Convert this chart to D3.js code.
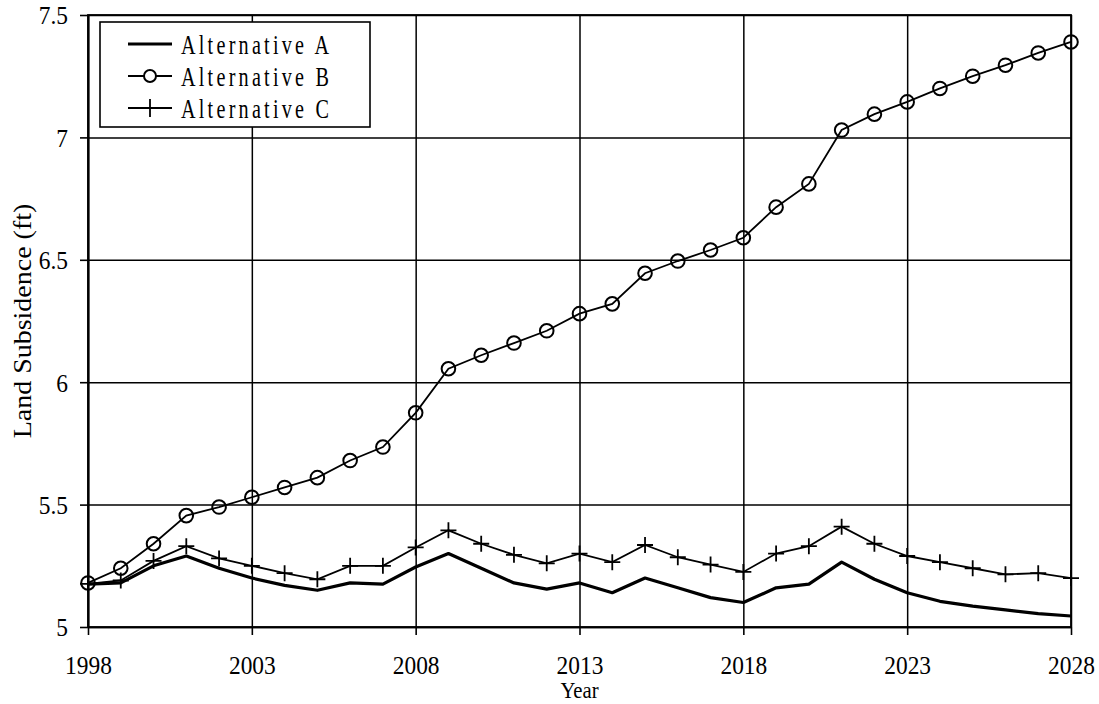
<!DOCTYPE html>
<html>
<head>
<meta charset="utf-8">
<script src="https://cdn.jsdelivr.net/npm/d3@7"></script>
<style>
  html, body { margin: 0; padding: 0; background: #fff; }
  svg { display: block; }
  text { font-family: "Liberation Serif", "Times New Roman", serif; fill: #000; }
</style>
</head>
<body>
<svg id="chart" width="1099" height="704"></svg>
<script>
// Years simulated
const years = d3.range(1998, 2029);

// Land subsidence (ft) for each management alternative
const altA = [5.175, 5.18, 5.25, 5.29, 5.24, 5.20, 5.17, 5.15, 5.18, 5.175,
              5.245, 5.30, 5.24, 5.18, 5.155, 5.18, 5.14, 5.20, 5.16, 5.12,
              5.10, 5.16, 5.175, 5.265, 5.195, 5.14, 5.105, 5.085, 5.07, 5.055, 5.045];
const altB = [5.18, 5.24, 5.34, 5.455, 5.49, 5.53, 5.57, 5.61, 5.68, 5.735,
              5.875, 6.055, 6.11, 6.16, 6.21, 6.28, 6.32, 6.445, 6.495, 6.54,
              6.59, 6.715, 6.81, 7.03, 7.095, 7.145, 7.20, 7.25, 7.295, 7.345, 7.39];
const altC = [5.176, 5.19, 5.27, 5.33, 5.28, 5.25, 5.22, 5.195, 5.25, 5.25,
              5.325, 5.395, 5.34, 5.295, 5.26, 5.30, 5.265, 5.335, 5.285, 5.255,
              5.225, 5.30, 5.33, 5.41, 5.34, 5.29, 5.265, 5.24, 5.215, 5.22, 5.20];

const xTicks = [1998, 2003, 2008, 2013, 2018, 2023, 2028];
const yTicks = [5, 5.5, 6, 6.5, 7, 7.5];
const seriesNames = ["Alternative A", "Alternative B", "Alternative C"];

const svg = d3.select("#chart");
const margin = { left: 88, top: 15, right: 1099 - 1071, bottom: 704 - 627 };
const W = 1099 - margin.left - margin.right;
const H = 704 - margin.top - margin.bottom;

const x = d3.scaleLinear().domain([1998, 2028]).range([0, W]);
const y = d3.scaleLinear().domain([5, 7.5]).range([H, 0]);

const g = svg.append("g").attr("transform", `translate(${margin.left},${margin.top})`);

// grid
g.append("g")
  .attr("transform", `translate(0,${H})`)
  .call(d3.axisBottom(x).tickValues(xTicks).tickSize(-H).tickFormat(""))
  .call(a => a.select(".domain").remove())
  .call(a => a.selectAll("line").attr("stroke", "#000").attr("stroke-width", 1.5));
g.append("g")
  .call(d3.axisLeft(y).tickValues(yTicks).tickSize(-W).tickFormat(""))
  .call(a => a.select(".domain").remove())
  .call(a => a.selectAll("line").attr("stroke", "#000").attr("stroke-width", 1.5));

// axes
const sx = 0.9;
g.append("g")
  .attr("transform", `translate(0,${H})`)
  .call(d3.axisBottom(x).tickValues(xTicks).tickSize(8).tickSizeOuter(0).tickFormat(d3.format("d")))
  .call(a => a.select(".domain").attr("stroke-width", 1.6))
  .call(a => a.selectAll("line").attr("stroke-width", 1.6))
  .call(a => a.selectAll("text")
    .attr("font-size", 26).attr("y", 0).attr("dy", 0)
    .attr("transform", `translate(0,47) scale(${sx},1)`));

g.append("g")
  .call(d3.axisLeft(y).tickValues(yTicks).tickSize(8).tickSizeOuter(0).tickFormat(d => d))
  .call(a => a.select(".domain").attr("stroke-width", 2))
  .call(a => a.selectAll("line").attr("stroke-width", 1.6))
  .call(a => a.selectAll("text")
    .attr("font-size", 26).attr("x", 0).attr("dy", "0.34em")
    .attr("transform", `translate(-20,0) scale(${sx},1)`));

// frame
g.append("rect").attr("x", 0).attr("y", 0).attr("width", W).attr("height", H)
  .attr("fill", "none").attr("stroke", "#000").attr("stroke-width", 1.8);

// axis titles
svg.append("text")
  .attr("transform", `translate(${margin.left + W / 2},698) scale(${sx},1)`)
  .attr("text-anchor", "middle").attr("font-size", 23).text("Year");
svg.append("text")
  .attr("transform", `translate(31,${margin.top + H / 2}) rotate(-90) scale(1,${sx})`)
  .attr("text-anchor", "middle").attr("font-size", 28).text("Land Subsidence (ft)");

// lines
const line = d3.line().x((d, i) => x(years[i])).y(d => y(d));
g.append("path").datum(altA).attr("d", line)
  .attr("fill", "none").attr("stroke", "#000").attr("stroke-width", 3.2).attr("stroke-linejoin", "round");
g.append("path").datum(altC).attr("d", line)
  .attr("fill", "none").attr("stroke", "#000").attr("stroke-width", 1.8);
g.append("path").datum(altB).attr("d", line)
  .attr("fill", "none").attr("stroke", "#000").attr("stroke-width", 1.8);

// markers
const plus = (sel, s) => sel.append("path")
  .attr("d", `M${-s},0H${s}M0,${-s}V${s}`)
  .attr("stroke", "#000").attr("stroke-width", 1.8).attr("fill", "none");

g.append("g").selectAll("g").data(altC).join("g")
  .attr("transform", (d, i) => `translate(${x(years[i])},${y(d)})`)
  .each(function () { plus(d3.select(this), 8); });

g.append("g").selectAll("circle").data(altB).join("circle")
  .attr("cx", (d, i) => x(years[i])).attr("cy", d => y(d)).attr("r", 6.8)
  .attr("fill", "none").attr("stroke", "#000").attr("stroke-width", 2);

// legend
const lg = svg.append("g");
lg.append("rect").attr("x", 100).attr("y", 22).attr("width", 270).attr("height", 105)
  .attr("fill", "#fff").attr("stroke", "#000").attr("stroke-width", 1.6);
const rowY = [44, 76, 108];
seriesNames.forEach((name, i) => {
  const ry = rowY[i];
  lg.append("line").attr("x1", 128).attr("x2", 172).attr("y1", ry).attr("y2", ry)
    .attr("stroke", "#000").attr("stroke-width", i === 0 ? 3.2 : 1.8);
  if (i === 1) {
    lg.append("circle").attr("cx", 150).attr("cy", ry).attr("r", 6)
      .attr("fill", "#fff").attr("stroke", "#000").attr("stroke-width", 2);
  }
  if (i === 2) {
    lg.append("g").attr("transform", `translate(150,${ry})`)
      .call(s => s.append("path").attr("d", "M0,-9V9").attr("stroke", "#000").attr("stroke-width", 1.8));
  }
  lg.append("text")
    .attr("transform", `translate(181,${ry + 10}) scale(0.72,1)`)
    .attr("font-size", 28).attr("letter-spacing", 4.5).text(name);
});
</script>
</body>
</html>
